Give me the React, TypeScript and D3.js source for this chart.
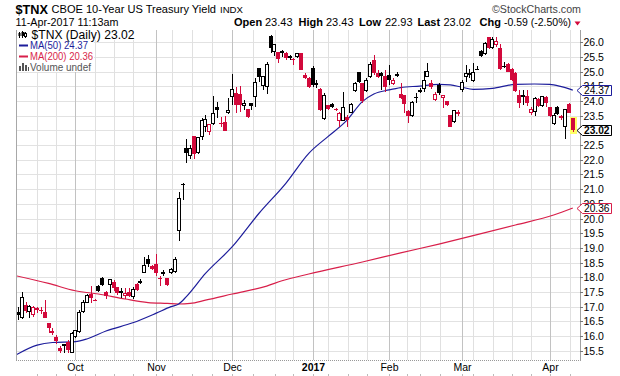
import React from "react";
import * as d3 from "d3";

// ---------- data (daily candles, Sep 12 2016 .. Apr 11 2017, trading-day index) ----------
const opens = [
  16.83, 16.62, 17.06, 16.82, 16.70, 16.96, 16.84, 16.83, 16.43, 16.17,
  15.98, 15.60, 15.72, 15.81, 15.43, 15.95, 16.15, 16.83, 17.14, 17.42,
  17.24, 17.70, 17.96, 17.51, 17.74, 17.85, 17.68, 17.53, 17.36, 17.51,
  17.34, 17.77, 17.79, 18.16, 18.61, 18.39, 18.44, 17.99, 18.19, 17.96,
  18.13, 18.19, 19.58, 21.18, 22.41, 22.14, 22.81, 22.22, 22.79, 23.13,
  22.96, 23.21, 23.79, 23.25, 23.30, 23.58, 24.13, 24.29, 24.24, 23.84,
  23.73, 23.94, 24.13, 25.11, 24.51, 24.49, 26.22, 25.68, 25.68, 25.70,
  25.65, 25.52, 25.42, 25.51, 25.62, 24.89, 24.77, 25.11, 24.60, 24.40,
  23.38, 23.87, 23.90, 23.73, 23.33, 23.33, 23.47, 23.60, 24.35, 25.00,
  24.60, 24.35, 24.81, 25.40, 24.97, 24.94, 24.85, 24.89, 24.58, 24.85,
  24.24, 24.21, 23.67, 23.49, 24.15, 24.38, 24.40, 24.83, 24.60, 24.03,
  24.55, 24.09, 24.00, 23.53, 23.30, 23.61, 24.38, 24.83, 24.89, 24.69,
  25.10, 25.72, 25.60, 26.17, 25.80, 25.91, 25.80, 25.18, 25.26, 25.08,
  24.97, 24.21, 24.21, 24.17, 23.60, 23.64, 24.06, 23.83, 24.15, 23.79,
  23.22, 23.79, 23.49, 23.13, 23.90, 23.43,
];
const highs = [
  17.00, 17.49, 17.17, 17.06, 17.02, 17.00, 16.98, 17.23, 16.43, 16.26,
  16.03, 15.66, 15.72, 15.86, 16.15, 16.22, 16.89, 17.23, 17.42, 17.70,
  17.25, 17.74, 18.02, 17.54, 17.94, 17.91, 17.68, 17.62, 17.62, 17.62,
  17.68, 17.79, 17.93, 18.68, 18.76, 18.42, 18.79, 18.04, 18.25, 17.96,
  18.30, 18.70, 20.89, 21.20, 22.70, 22.50, 22.81, 22.79, 23.41, 23.52,
  23.21, 24.17, 23.98, 23.45, 23.50, 24.09, 24.92, 24.49, 24.51, 24.03,
  23.73, 23.94, 24.77, 25.11, 24.84, 25.32, 26.25, 25.94, 25.68, 25.74,
  25.68, 25.58, 25.45, 25.62, 25.62, 24.97, 24.83, 25.19, 24.72, 24.43,
  24.26, 23.87, 23.92, 23.75, 23.63, 24.32, 23.53, 23.94, 24.66, 25.00,
  24.60, 24.77, 25.34, 25.57, 25.06, 25.00, 25.06, 25.23, 24.77, 25.00,
  24.60, 24.21, 23.69, 24.01, 24.26, 24.43, 25.02, 25.28, 24.70, 24.30,
  24.60, 24.21, 24.00, 23.53, 23.71, 23.71, 24.72, 25.23, 25.10, 25.28,
  25.19, 25.74, 26.02, 26.19, 26.17, 26.17, 25.94, 25.33, 25.28, 25.11,
  25.00, 24.38, 24.38, 24.38, 23.81, 24.15, 24.09, 24.17, 24.17, 23.81,
  23.58, 23.83, 23.53, 23.72, 23.94, 23.43,
];
const lows = [
  16.55, 16.57, 16.77, 16.60, 16.66, 16.80, 16.75, 16.62, 16.09, 16.03,
  15.72, 15.43, 15.43, 15.41, 15.41, 15.92, 16.09, 16.80, 17.11, 17.14,
  17.22, 17.51, 17.70, 17.25, 17.48, 17.54, 17.40, 17.28, 17.25, 17.34,
  17.25, 17.54, 17.77, 18.13, 18.36, 18.25, 18.04, 17.71, 18.04, 17.69,
  18.11, 18.16, 19.24, 20.63, 21.88, 22.03, 22.03, 22.20, 22.67, 22.96,
  22.84, 23.19, 23.41, 23.13, 22.99, 23.56, 23.87, 23.60, 23.64, 23.69,
  23.41, 23.69, 23.81, 24.66, 24.38, 24.23, 25.65, 25.53, 25.28, 25.51,
  25.40, 25.40, 25.23, 25.48, 25.04, 24.74, 24.43, 24.49, 24.43, 23.67,
  23.36, 23.69, 23.75, 23.66, 23.13, 23.33, 23.10, 23.58, 24.32, 24.63,
  23.94, 24.32, 24.77, 24.89, 24.77, 24.38, 24.32, 24.55, 24.55, 24.83,
  24.06, 23.58, 23.24, 23.47, 23.92, 24.26, 24.32, 24.83, 24.40, 24.00,
  24.20, 23.75, 23.83, 23.10, 23.26, 23.48, 24.32, 24.66, 24.80, 24.66,
  25.05, 25.49, 25.57, 25.76, 25.76, 25.85, 25.06, 25.11, 25.00, 24.69,
  24.32, 23.75, 23.87, 23.83, 23.53, 23.49, 23.79, 23.81, 23.81, 23.45,
  23.19, 23.53, 23.36, 22.70, 23.58, 22.93,
];
const closes = [
  16.70, 17.34, 16.85, 17.02, 17.00, 16.88, 16.87, 16.62, 16.28, 16.10,
  15.83, 15.49, 15.67, 15.52, 16.09, 16.20, 16.83, 17.16, 17.40, 17.30,
  17.23, 17.54, 17.74, 17.36, 17.94, 17.62, 17.45, 17.48, 17.45, 17.36,
  17.59, 17.57, 17.87, 18.42, 18.44, 18.28, 18.16, 17.96, 18.10, 17.74,
  18.28, 18.61, 20.71, 21.18, 22.22, 22.41, 22.20, 22.77, 23.35, 23.38,
  23.21, 23.58, 23.69, 23.22, 22.99, 23.69, 24.40, 23.87, 23.85, 23.95,
  23.47, 23.84, 24.64, 24.83, 24.84, 25.26, 25.80, 25.94, 25.42, 25.65,
  25.45, 25.48, 25.40, 25.62, 25.06, 24.77, 24.47, 24.55, 24.56, 23.70,
  24.21, 23.73, 23.79, 23.68, 23.60, 23.79, 23.35, 23.90, 24.60, 24.66,
  24.00, 24.72, 25.26, 24.94, 24.81, 24.84, 24.49, 24.72, 24.70, 24.92,
  24.09, 23.90, 23.49, 23.98, 24.10, 24.32, 24.72, 25.02, 24.48, 24.25,
  24.27, 24.21, 23.87, 23.13, 23.69, 23.57, 24.66, 24.94, 24.97, 24.99,
  25.10, 25.52, 25.99, 25.80, 26.10, 26.05, 25.08, 25.18, 25.00, 24.72,
  24.35, 23.95, 24.13, 23.95, 23.72, 24.09, 23.83, 24.17, 23.92, 23.49,
  23.53, 23.57, 23.41, 23.72, 23.60, 23.02,
];
const PREV_CLOSE = 16.6;

const ma50Days = [-0.5, 5, 9, 15, 18, 23, 30, 36, 40, 42, 44, 49, 56, 63, 70, 76, 81, 86, 90, 93, 97, 100, 105, 110, 113, 116, 119, 124, 130, 135, 139, 142, 145];
const ma50Vals = [15.36, 15.69, 15.78, 15.81, 15.90, 16.17, 16.45, 16.77, 17.00, 17.09, 17.34, 18.13, 19.04, 20.18, 21.20, 22.22, 22.79, 23.35, 23.98, 24.24, 24.38, 24.46, 24.51, 24.57, 24.55, 24.47, 24.40, 24.43, 24.57, 24.58, 24.57, 24.49, 24.37];
const ma200Days = [-0.5, 8, 15, 21, 28, 34, 39, 42, 45, 49, 56, 65, 69, 76, 90, 100, 110, 120, 130, 140, 145];
const ma200Vals = [18.05, 17.79, 17.54, 17.43, 17.26, 17.14, 17.11, 17.09, 17.11, 17.22, 17.43, 17.70, 17.88, 18.11, 18.52, 18.83, 19.13, 19.45, 19.78, 20.12, 20.36];

const yTickValues = [15.5, 16, 16.5, 17, 17.5, 18, 18.5, 19, 19.5, 20, 20.5, 21, 21.5, 22, 22.5, 23, 23.5, 24, 24.5, 25, 25.5, 26];
const monthLabels = ["Oct", "Nov", "Dec", "2017", "Feb", "Mar", "Apr"];
const monthDays = [15, 36, 56, 77, 97, 116, 139];
const weekDays = [5, 10, 20, 25, 30, 40.2, 45.4, 50.7, 61.5, 67.2, 72, 81.1, 86.3, 91.3, 101.7, 105.1, 110.3, 119, 124.2, 129.2, 134.2, 144.3];

const LAST_MA50 = 24.37;
const LAST_MA200 = 20.36;
const LAST_CLOSE = 23.02;

const RED = "#d2093b";
const NAVY = "#1d1d9b";
const MA_RED = "#d81f4a";
const FONT = "'Liberation Sans', Arial, Helvetica, sans-serif";

export default function App() {
  const PL = 16, PR = 580, PT = 30, PB = 360;
  const x = d3.scaleLinear().domain([0, 145]).range([18, 572.8]);
  const y = d3.scaleLinear().domain([15.5, 26]).range([350.7, 42.3]);

  const lineGen = d3
    .line<[number, number]>()
    .x((d) => x(d[0]))
    .y((d) => y(d[1]))
    .curve(d3.curveMonotoneX);
  const ma50Path = lineGen(d3.zip(ma50Days, ma50Vals) as [number, number][]) || "";
  const ma200Path = lineGen(d3.zip(ma200Days, ma200Vals) as [number, number][]) || "";

  const lastIdx = closes.length - 1;

  const candles = closes.map((c, i) => {
    const o = opens[i], h = highs[i], l = lows[i];
    const prev = i === 0 ? PREV_CLOSE : closes[i - 1];
    const col = c >= prev ? "#000" : RED;
    const cx = Math.round(x(i));
    const yh = Math.round(y(h));
    const yl = Math.round(y(l));
    const yt = Math.round(y(Math.max(o, c)));
    const yb = Math.round(y(Math.min(o, c)));
    const bh = Math.max(1, yb - yt);
    const hollow = c > o && bh > 2;
    return (
      <g key={i}>
        {i === lastIdx && (
          <rect x={cx - 3} y={yh - 1} width={7} height={yl - yh + 3} fill="#ffff66" />
        )}
        <line x1={cx + 0.5} x2={cx + 0.5} y1={yh} y2={Math.max(yl, yh + 1)} stroke={col} strokeWidth={1} />
        {hollow ? (
          <rect x={cx - 1.5} y={yt + 0.5} width={3} height={bh - 1} fill="#fff" stroke={col} strokeWidth={1} />
        ) : (
          <rect x={cx - 2} y={yt} width={4} height={bh} fill={col} />
        )}
      </g>
    );
  });

  const tags = [
    { v: LAST_MA50, stroke: NAVY, bold: false },
    { v: LAST_MA200, stroke: MA_RED, bold: false },
    { v: LAST_CLOSE, stroke: "#000", bold: true },
  ].map((tg) => {
    const yv = y(tg.v);
    const t = Math.round(yv - 5) + 0.5;
    const b = Math.round(yv + 5) + 0.5;
    return { ...tg, t, b, m: (t + b) / 2 };
  });

  // tick labels partly hidden behind the value tags are clipped to their visible part
  const hiddenBy = (yy: number) => tags.find((tg) => yy + 5 > tg.t && yy - 5 < tg.b);

  return (
    <svg
      width={620}
      height={376}
      viewBox="0 0 620 376"
      style={{ position: "absolute", left: 0, top: 0, background: "#fff" }}
      fontFamily={FONT}
    >
      <rect x={0} y={0} width={620} height={376} fill="#fff" />

      {/* header */}
      <text x={15.5} y={13.5} fontSize={13.5} fontWeight="bold" fill="#000" textLength={32.5} lengthAdjust="spacingAndGlyphs">$TNX</text>
      <text x={51.5} y={13} fontSize={11} fill="#000" textLength={164.5} lengthAdjust="spacingAndGlyphs">CBOE 10-Year US Treasury Yield</text>
      <text x={220} y={13} fontSize={9.5} fill="#000" textLength={23} lengthAdjust="spacingAndGlyphs">INDX</text>
      <text x={492} y={13} fontSize={11} fill="#444" textLength={89} lengthAdjust="spacingAndGlyphs">©StockCharts.com</text>
      <text x={15.5} y={26} fontSize={11} fill="#000" textLength={103} lengthAdjust="spacingAndGlyphs">11-Apr-2017 11:13am</text>
      <g fontSize={11} fill="#000">
        <text x={234} y={26} fontWeight="bold">Open</text>
        <text x={265} y={26}>23.43</text>
        <text x={298.5} y={26} fontWeight="bold">High</text>
        <text x={326} y={26}>23.43</text>
        <text x={359} y={26} fontWeight="bold">Low</text>
        <text x={385} y={26}>22.93</text>
        <text x={417.5} y={26} fontWeight="bold">Last</text>
        <text x={443.5} y={26}>23.02</text>
        <text x={479.5} y={26} fontWeight="bold">Chg</text>
        <text x={504} y={26} textLength={67} lengthAdjust="spacingAndGlyphs">-0.59 (-2.50%)</text>
      </g>
      <path d="M574.5,21.5 L580.5,21.5 L577.5,25.5 Z" fill={RED} />

      {/* grid */}
      {yTickValues.map((v) => {
        const yy = Math.round(y(v)) + 0.5;
        return <line key={"h" + v} x1={PL} x2={PR} y1={yy} y2={yy} stroke="#e2e2e2" strokeWidth={1} />;
      })}
      {weekDays.map((d) => {
        const xx = Math.round(x(d)) + 0.5;
        return <line key={"w" + d} x1={xx} x2={xx} y1={PT} y2={PB} stroke="#e0e0e0" strokeWidth={1} />;
      })}
      {monthDays.map((d) => {
        const xx = Math.round(x(d)) + 0.5;
        return <line key={"m" + d} x1={xx} x2={xx} y1={PT} y2={PB} stroke="#c2c2c2" strokeWidth={1} />;
      })}

      {/* borders */}
      <line x1={PL + 0.5} x2={PL + 0.5} y1={PT} y2={PB} stroke="#a8a8a8" />
      <line x1={PR + 0.5} x2={PR + 0.5} y1={PT} y2={PB + 1} stroke="#a0a0a0" />
      <line x1={PL} x2={PR} y1={PB + 0.5} y2={PB + 0.5} stroke="#999" strokeDasharray="1,1" />

      {/* bottom tick stubs */}
      {[...weekDays, ...monthDays].map((d) => {
        const xx = Math.round(x(d)) + 0.5;
        return <line key={"t" + d} x1={xx} x2={xx} y1={374} y2={376} stroke="#bbb" />;
      })}

      {/* moving averages + candles */}
      <defs>
        <clipPath id="plotclip">
          <rect x={PL + 1} y={PT} width={PR - PL - 1} height={PB - PT} />
        </clipPath>
        {tags.map((tg, i) => (
          <clipPath id={"above" + i} key={"cp" + i}>
            <rect x={580} y={0} width={40} height={tg.t} />
          </clipPath>
        ))}
      </defs>
      <g clipPath="url(#plotclip)">
        <path d={ma200Path} fill="none" stroke={MA_RED} strokeWidth={1.2} />
        <path d={ma50Path} fill="none" stroke={NAVY} strokeWidth={1.2} />
        {candles}
      </g>

      {/* legend */}
      <rect x={17} y={30} width={118} height={10} fill="#fff" />
      <rect x={17} y={40} width={77} height={32} fill="#fff" />
      <g>
        <line x1={19.5} x2={19.5} y1={32} y2={38} stroke="#000" />
        <rect x={18.5} y={33} width={2} height={3} fill="#000" />
        <line x1={22.5} x2={22.5} y1={31} y2={38} stroke="#000" />
        <rect x={21.5} y={32} width={3} height={4} fill="#000" />
        <line x1={25.5} x2={25.5} y1={32} y2={38} stroke="#000" />
        <rect x={24.5} y={33.5} width={2} height={3} fill="#fff" stroke="#000" strokeWidth={1} />
      </g>
      <text x={31.5} y={38.5} fontSize={12} fill="#000" textLength={103} lengthAdjust="spacingAndGlyphs">$TNX (Daily) 23.02</text>
      <rect x={19} y={44.5} width={9} height={2} fill={NAVY} />
      <text x={30} y={49.3} fontSize={10} fill={NAVY} textLength={58} lengthAdjust="spacingAndGlyphs">MA(50) 24.37</text>
      <rect x={19} y={55.5} width={9} height={2} fill={MA_RED} />
      <text x={30} y={60} fontSize={10} fill={MA_RED} textLength={63} lengthAdjust="spacingAndGlyphs">MA(200) 20.36</text>
      <g fill="#555">
        <rect x={19} y={66} width={2} height={5} />
        <rect x={22} y={63} width={2} height={8} />
        <rect x={25} y={65} width={2} height={6} />
        <rect x={28} y={67} width={1} height={4} />
      </g>
      <text x={30} y={70.7} fontSize={10} fill="#555" textLength={61} lengthAdjust="spacingAndGlyphs">Volume undef</text>

      {/* right axis */}
      {yTickValues.map((v) => {
        const yy = Math.round(y(v)) + 0.5;
        const cover = hiddenBy(yy);
        const idx = cover ? tags.indexOf(cover) : -1;
        const fullyHidden = cover && yy - 4 >= cover.t;
        return (
          <g key={"yl" + v}>
            <line x1={PR} x2={PR + 3} y1={yy} y2={yy} stroke="#777" />
            {!fullyHidden && (
              <text
                x={583.5}
                y={yy + 3.8}
                fontSize={10.5}
                fill="#000"
                clipPath={idx >= 0 ? `url(#above${idx})` : undefined}
              >
                {v.toFixed(1)}
              </text>
            )}
          </g>
        );
      })}
      {tags.map((tg, i) => (
        <g key={"tag" + i}>
          <path
            d={`M577,${tg.m} L582.5,${tg.t} L611.5,${tg.t} L611.5,${tg.b} L582.5,${tg.b} Z`}
            fill="#fff"
            stroke={tg.stroke}
            strokeWidth={1}
          />
          <text
            x={584}
            y={tg.m + 3.8}
            fontSize={10.5}
            fontWeight={tg.bold ? "bold" : "normal"}
            fill="#000"
            textLength={25.5}
            lengthAdjust="spacingAndGlyphs"
          >
            {tg.v.toFixed(2)}
          </text>
        </g>
      ))}

      {/* bottom axis labels */}
      {monthLabels.map((lab, i) => (
        <text
          key={lab}
          x={Math.round(x(monthDays[i])) + 0.5}
          y={370.5}
          fontSize={10.5}
          textAnchor="middle"
          fontWeight={lab === "2017" ? "bold" : "normal"}
          fill="#000"
        >
          {lab}
        </text>
      ))}
    </svg>
  );
}
